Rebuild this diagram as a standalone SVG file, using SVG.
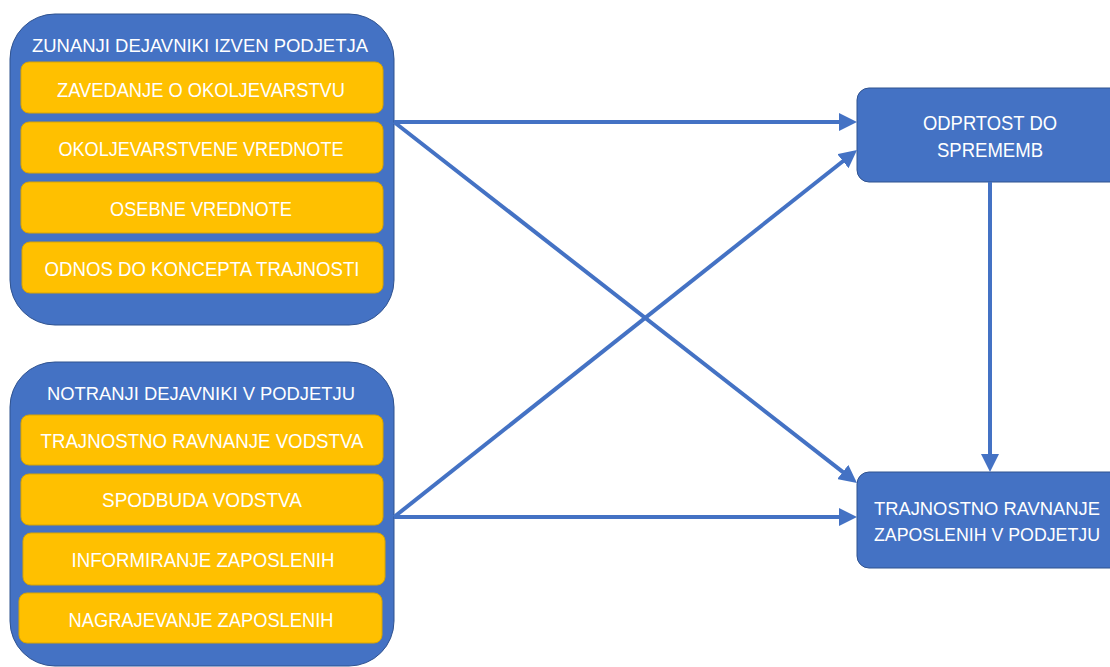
<svg xmlns="http://www.w3.org/2000/svg" width="1110" height="667" viewBox="0 0 1110 667">
  <style>
    .outer { fill: #4472C4; stroke: #2F528F; stroke-width: 1; }
    .item { fill: #FFC000; stroke: #D9A400; stroke-width: 1; }
    .node { fill: #4472C4; stroke: #2F528F; stroke-width: 1; }
    text { font-family: "Liberation Sans", Arial, sans-serif; fill: #FFFFFF; text-anchor: middle; }
    .title { font-size: 19px; }
    .lbl { font-size: 21px; }
    .nlbl { font-size: 19.5px; }
    .nlbl2 { font-size: 18.5px; }
    .conn { stroke: #4472C4; stroke-width: 4; fill: none; marker-end: url(#arrow); }
  </style>
  <defs>
    <marker id="arrow" markerUnits="userSpaceOnUse" markerWidth="18" markerHeight="18" viewBox="0 0 18 18" refX="8" refY="9" orient="auto">
      <path d="M0,0 L18,9 L0,18 z" fill="#4472C4"/>
    </marker>
  </defs>

  <g id="external">
    <rect class="outer" x="10" y="14" width="384" height="311" rx="45" ry="45"/>
    <text class="title" x="200" y="52" textLength="336" lengthAdjust="spacingAndGlyphs">ZUNANJI DEJAVNIKI IZVEN PODJETJA</text>
    <g id="ext1">
      <rect class="item" x="21" y="62" width="362" height="51" rx="8" ry="8"/>
      <text class="lbl" x="201" y="97" textLength="288" lengthAdjust="spacingAndGlyphs">ZAVEDANJE O OKOLJEVARSTVU</text>
    </g>
    <g id="ext2">
      <rect class="item" x="21" y="122" width="362" height="51" rx="8" ry="8"/>
      <text class="lbl" x="201" y="156" textLength="285" lengthAdjust="spacingAndGlyphs">OKOLJEVARSTVENE VREDNOTE</text>
    </g>
    <g id="ext3">
      <rect class="item" x="21" y="182" width="362" height="51" rx="8" ry="8"/>
      <text class="lbl" x="201" y="216" textLength="182" lengthAdjust="spacingAndGlyphs">OSEBNE VREDNOTE</text>
    </g>
    <g id="ext4">
      <rect class="item" x="22" y="242" width="361" height="51" rx="8" ry="8"/>
      <text class="lbl" x="202" y="276" textLength="315" lengthAdjust="spacingAndGlyphs">ODNOS DO KONCEPTA TRAJNOSTI</text>
    </g>
  </g>

  <g id="internal">
    <rect class="outer" x="10" y="362" width="384" height="304" rx="45" ry="45"/>
    <text class="title" x="201" y="400" textLength="308" lengthAdjust="spacingAndGlyphs">NOTRANJI DEJAVNIKI V PODJETJU</text>
    <g id="int1">
      <rect class="item" x="21" y="415" width="362" height="50" rx="8" ry="8"/>
      <text class="lbl" x="202" y="448" textLength="323" lengthAdjust="spacingAndGlyphs">TRAJNOSTNO RAVNANJE VODSTVA</text>
    </g>
    <g id="int2">
      <rect class="item" x="21" y="474" width="362" height="51" rx="8" ry="8"/>
      <text class="lbl" x="202" y="507" textLength="200" lengthAdjust="spacingAndGlyphs">SPODBUDA VODSTVA</text>
    </g>
    <g id="int3">
      <rect class="item" x="23" y="533" width="362" height="52" rx="8" ry="8"/>
      <text class="lbl" x="203" y="567" textLength="263" lengthAdjust="spacingAndGlyphs">INFORMIRANJE ZAPOSLENIH</text>
    </g>
    <g id="int4">
      <rect class="item" x="19" y="593" width="363" height="50" rx="8" ry="8"/>
      <text class="lbl" x="201" y="627" textLength="265" lengthAdjust="spacingAndGlyphs">NAGRAJEVANJE ZAPOSLENIH</text>
    </g>
  </g>

  <g id="openness">
    <rect class="node" x="857" y="88" width="266" height="94" rx="12" ry="12"/>
    <text class="nlbl" x="990" y="130" textLength="134" lengthAdjust="spacingAndGlyphs">ODPRTOST DO</text>
    <text class="nlbl" x="990" y="157" textLength="106" lengthAdjust="spacingAndGlyphs">SPREMEMB</text>
  </g>

  <g id="sustainable">
    <rect class="node" x="857" y="472" width="266" height="96" rx="12" ry="12"/>
    <text class="nlbl2" x="987" y="515" textLength="226" lengthAdjust="spacingAndGlyphs">TRAJNOSTNO RAVNANJE</text>
    <text class="nlbl2" x="987" y="541" textLength="226" lengthAdjust="spacingAndGlyphs">ZAPOSLENIH V PODJETJU</text>
  </g>

  <g id="connectors">
    <line class="conn" x1="394" y1="122" x2="847" y2="122"/>
    <line class="conn" x1="394" y1="122" x2="849.1" y2="476.9"/>
    <line class="conn" x1="394" y1="517" x2="847" y2="517"/>
    <line class="conn" x1="394" y1="517" x2="849.2" y2="156.2"/>
    <line class="conn" x1="990" y1="182" x2="990" y2="462"/>
  </g>
</svg>
